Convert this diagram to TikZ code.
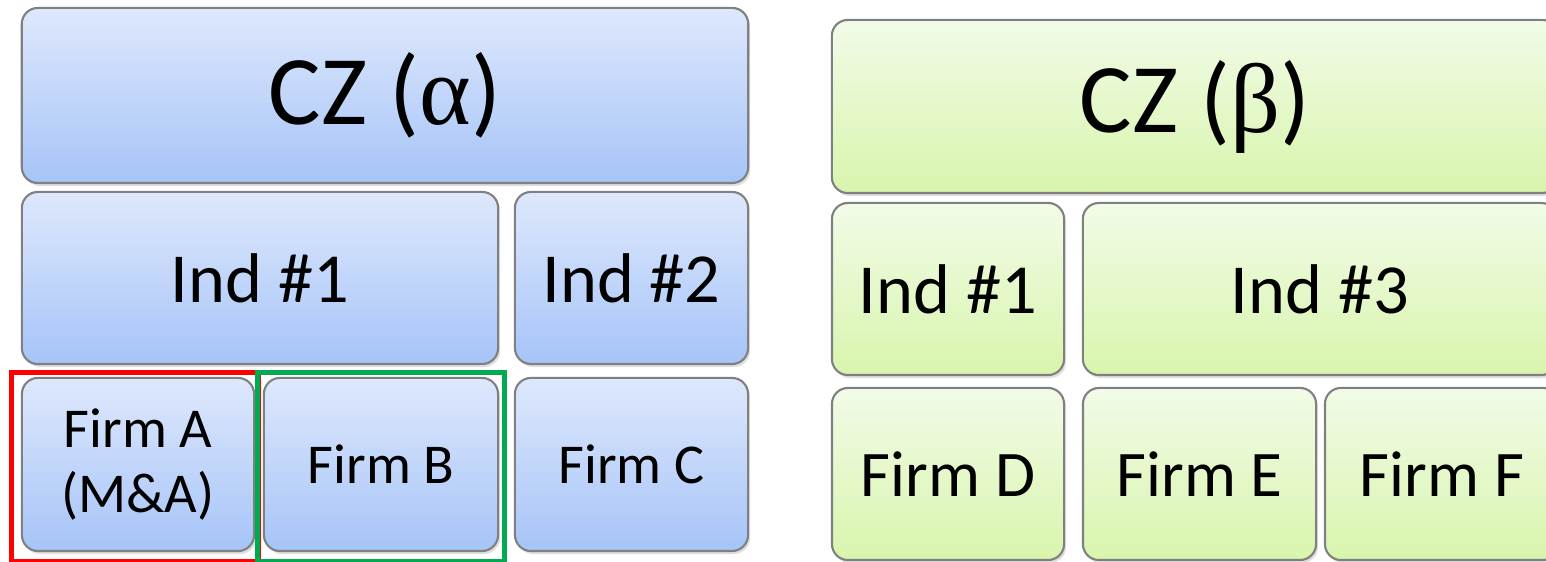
\documentclass[tikz,border=0pt]{standalone}
\usepackage{fontspec}
\setmainfont{Carlito}
\newfontfamily\greekfont{Liberation Serif}
\usetikzlibrary{shadows}

\definecolor{bluetop}{RGB}{222,232,252}
\definecolor{bluebot}{RGB}{166,196,248}
\definecolor{greentop}{RGB}{242,251,232}
\definecolor{greenbot}{RGB}{216,245,172}
\definecolor{boxline}{RGB}{128,128,128}
\definecolor{markred}{RGB}{255,0,0}
\definecolor{markgreen}{RGB}{0,170,80}

\tikzset{
	tile/.style={draw=boxline, line width=0.6pt, rounded corners=0.16cm,
		drop shadow={shadow xshift=0.02cm, shadow yshift=-0.03cm, opacity=0.25},
		inner sep=0pt, align=center, font=\fontsize{20}{22}\selectfont},
	bluetile/.style={tile, top color=bluetop, bottom color=bluebot},
	greentile/.style={tile, top color=greentop, bottom color=greenbot},
	czfont/.style={font=\fontsize{28}{30}\selectfont},
	firmfont/.style={font=\fontsize{16}{18.5}\selectfont},
	pickframe/.style={draw, line width=0.05cm},
}

\begin{document}
\begin{tikzpicture}[x=0.01cm, y=-0.01cm]
	\useasboundingbox (0,0) rectangle (1546,562);
	\clip (0,0) rectangle (1546,562);

	% alpha zone
	\node[bluetile, czfont, minimum width=7.26cm, minimum height=1.75cm] (cza) at (385,95.5) {CZ ({\greekfont α})};
	\node[bluetile, minimum width=4.76cm, minimum height=1.72cm] (ind1a) at (260,278) {Ind \#1};
	\node[bluetile, minimum width=2.33cm, minimum height=1.72cm] (ind2a) at (631.5,278) {Ind \#2};
	\node[bluetile, firmfont, minimum width=2.32cm, minimum height=1.73cm] (firma) at (138,464.5) {Firm A\\(M\&A)};
	\node[bluetile, firmfont, minimum width=2.34cm, minimum height=1.73cm] (firmb) at (381,464.5) {Firm B};
	\node[bluetile, firmfont, minimum width=2.33cm, minimum height=1.73cm] (firmc) at (631.5,464.5) {Firm C};

	% beta zone
	\node[greentile, czfont, minimum width=7.26cm, minimum height=1.73cm] (czb) at (1195,106.5) {CZ ({\greekfont β})};
	\node[greentile, minimum width=2.32cm, minimum height=1.72cm] (ind1b) at (948,289) {Ind \#1};
	\node[greentile, minimum width=4.74cm, minimum height=1.72cm] (ind3b) at (1320,289) {Ind \#3};
	\node[greentile, font=\fontsize{18.5}{21}\selectfont, minimum width=2.32cm, minimum height=1.72cm] (firmd) at (948,474) {Firm D};
	\node[greentile, font=\fontsize{18.5}{21}\selectfont, minimum width=2.33cm, minimum height=1.72cm] (firme) at (1199.5,474) {Firm E};
	\node[greentile, font=\fontsize{18.5}{21}\selectfont, minimum width=2.34cm, minimum height=1.72cm] (firmf) at (1442,474) {Firm F};

	% merger pair
	\node[pickframe, markred, minimum width=2.46cm, minimum height=1.88cm] (pickA) at (135,467) {};
	\node[pickframe, markgreen, minimum width=2.46cm, minimum height=1.88cm] (pickB) at (381,467) {};
\end{tikzpicture}
\end{document}
